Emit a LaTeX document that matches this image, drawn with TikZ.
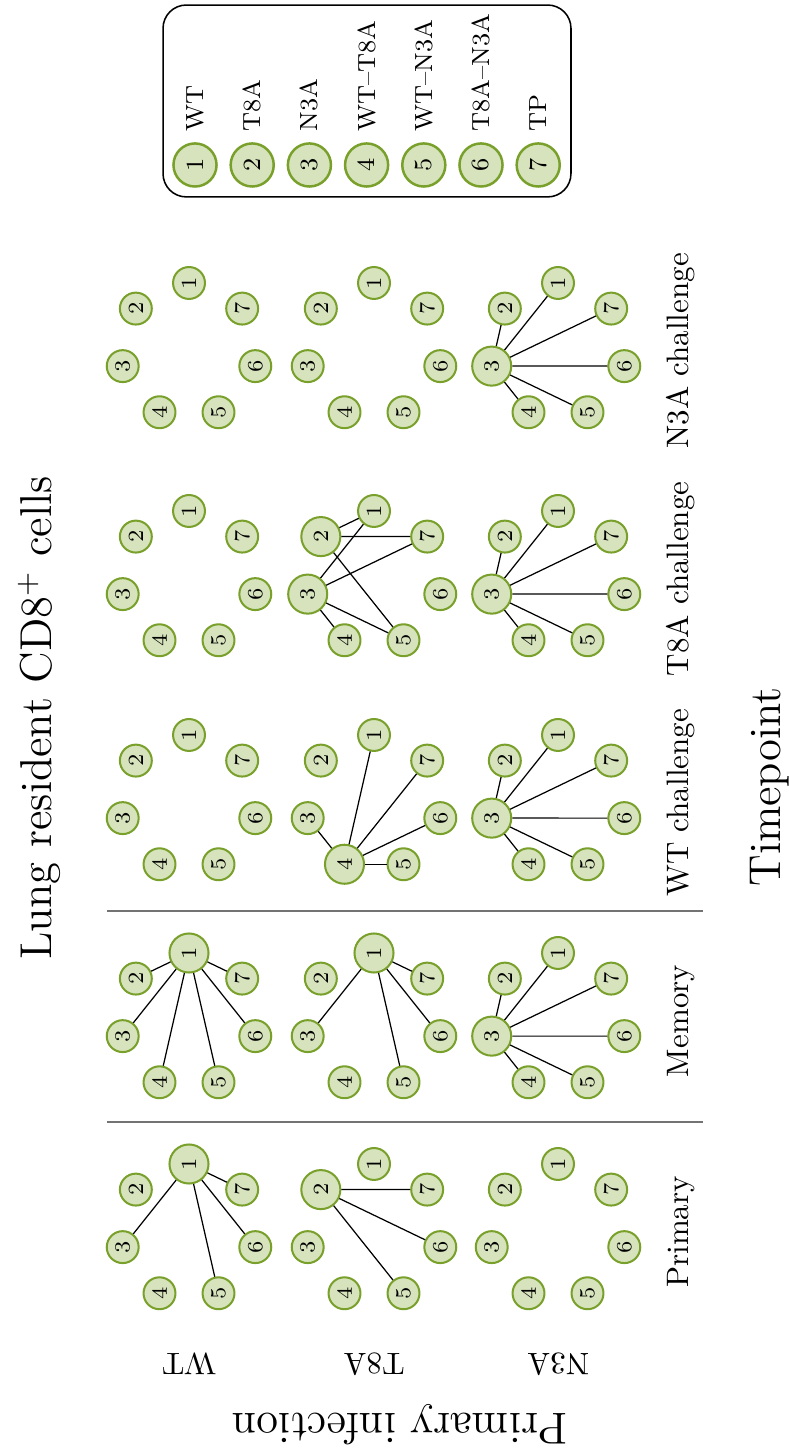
\documentclass[tikz,border=0pt]{standalone}
\usetikzlibrary{calc}
\definecolor{ndfill}{RGB}{214,227,188}
\definecolor{ndborder}{RGB}{120,160,42}
\newcommand{\mkpanel}[4]{%
  \foreach \k in {1,...,7}{
    \pgfmathtruncatemacro{\bg}{mod(floor(#4/2^(\k-1)),2)}
    \node[nd, minimum size={10.3pt+2.3pt*\bg}] (#1-\k) at ({#2+68*cos(90+(\k-1)*360/7)},{#3+68*sin(90+(\k-1)*360/7)}) {\k};
  }
}
\newcommand{\mklinks}[2]{%
  \foreach \ea/\eb in {#2}{ \draw[lnk] (#1-\ea) -- (#1-\eb); }
}
\begin{document}
\begin{tikzpicture}[x=0.3226pt,y=0.3226pt,
  nd/.style={circle, draw=ndborder, fill=ndfill, line width=0.65pt, inner sep=0pt, rotate=90, font=\fontsize{7}{8}\selectfont},
  lgnd/.style={circle, draw=ndborder, fill=ndfill, line width=0.8pt, inner sep=0pt, rotate=90, minimum size=13.9pt, font=\fontsize{8}{9}\selectfont},
  lnk/.style={black, line width=0.4pt},
  sep/.style={black!55, line width=0.5pt},
  vlab/.style={rotate=90, anchor=base},
  hlab/.style={rotate=180, anchor=base}]
\useasboundingbox (0,0) rectangle (789,1455);
% title and axis labels
\node[vlab, font=\Large] (title) at (52,737) {Lung resident CD8$^+$ cells};
\node[vlab, font=\Large] (tp) at (780,668) {Timepoint};
\node[hlab, font=\Large] (pi) at (400,42) {Primary infection};
% row labels
\node[hlab] (rW) at (189,102) {WT};
\node[hlab] (rT) at (374,102) {T8A};
\node[hlab] (rN) at (558,102) {N3A};
% column labels
\node[vlab] (cp) at (688,223) {Primary};
\node[vlab] (cm) at (688,434) {Memory};
\node[vlab] (cw) at (688,652) {WT challenge};
\node[vlab] (ct) at (688,876) {T8A challenge};
\node[vlab] (cn) at (688,1104) {N3A challenge};
% separators
\coordinate (s1a) at (107,333); \coordinate (s1b) at (703,333);
\coordinate (s2a) at (107,544); \coordinate (s2b) at (703,544);
\draw[sep] (s1a) -- (s1b);
\draw[sep] (s2a) -- (s2b);
% WT row
\mkpanel{Wp}{189}{223}{1}
\mklinks{Wp}{1/3,1/5,1/6,1/7}
\mkpanel{Wm}{189}{434}{1}
\mklinks{Wm}{1/2,1/3,1/4,1/5,1/6,1/7}
\mkpanel{Ww}{189}{652}{0}
\mkpanel{Wt}{189}{876}{0}
\mkpanel{Wn}{189}{1104}{0}
% T8A row
\mkpanel{Tp}{374}{223}{2}
\mklinks{Tp}{2/7,2/6,2/5}
\mkpanel{Tm}{374}{434}{1}
\mklinks{Tm}{1/3,1/5,1/6,1/7}
\mkpanel{Tw}{374}{652}{8}
\mklinks{Tw}{4/3,4/1,4/7,4/6,4/5}
\mkpanel{Tt}{374}{876}{6}
\mklinks{Tt}{2/1,2/7,2/5,3/1,3/7,3/4,3/5}
\mkpanel{Tn}{374}{1104}{0}
% N3A row
\mkpanel{Np}{558}{223}{0}
\mkpanel{Nm}{558}{434}{4}
\mklinks{Nm}{3/2,3/1,3/7,3/6,3/5,3/4}
\mkpanel{Nw}{558}{652}{4}
\mklinks{Nw}{3/2,3/1,3/7,3/6,3/5,3/4}
\mkpanel{Nt}{558}{876}{4}
\mklinks{Nt}{3/2,3/1,3/7,3/6,3/5,3/4}
\mkpanel{Nn}{558}{1104}{4}
\mklinks{Nn}{3/2,3/1,3/7,3/6,3/5,3/4}
% legend
\node[draw, rounded corners=7.5pt, line width=0.5pt, minimum width=131.6pt, minimum height=61.9pt, inner sep=0pt] (lgbox) at (367,1354) {};
\foreach \k/\t in {1/WT,2/T8A,3/N3A,4/WT--T8A,5/WT--N3A,6/T8A--N3A,7/TP}{
  \node[lgnd] (L\k) at ({195+57.2*(\k-1)},1290) {\k};
  \node[rotate=90, anchor=west, font=\footnotesize, inner sep=0pt] (LT\k) at ($(L\k.east)+(0,10)$) {\t};
}
\end{tikzpicture}
\end{document}
